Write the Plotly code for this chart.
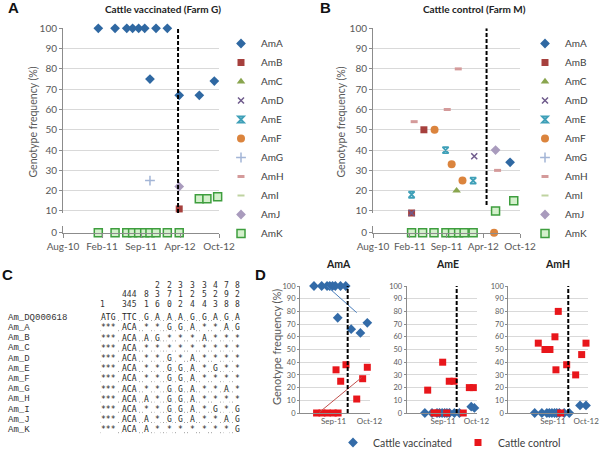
import plotly.graph_objects as go

W, H = 600, 452
def px(x): return x / W
def py(y): return 1 - y / H

FONT = "Lato"
TXT = "#404040"
TICK = "#595959"
GRID = "#D9D9D9"
AXL = "#8C8C8C"

# ---------------- data ----------------
# x values: days since 10 Aug 2010
tick_days = [0, 200, 400, 600, 800]
tick_text = ["Aug-10", "Feb-11", "Sep-11", "Apr-12", "Oct-12"]
genotypes = ["AmA", "AmB", "AmC", "AmD", "AmE", "AmF", "AmG", "AmH", "AmI", "AmJ", "AmK"]
y_title = "Genotype frequency (%)"

# Panel A - Cattle vaccinated (Farm G)
A_AmA_x = [181, 267, 327, 357, 388, 419, 446, 477, 535, 596, 699, 776]
A_AmA_y = [100, 100, 100, 100, 100, 100, 75, 100, 100, 67, 67, 74]
A_AmB_x = [596]
A_AmB_y = [11]
A_AmG_x = [446]
A_AmG_y = [25]
A_AmJ_x = [596]
A_AmJ_y = [22]
A_AmK_x = [181, 267, 327, 357, 388, 419, 446, 477, 535, 596, 699, 738, 793]
A_AmK_y = [0, 0, 0, 0, 0, 0, 0, 0, 0, 0, 16, 16, 17]
A_vacc_day = 590

# Panel B - Cattle control (Farm M)
B_AmA_x = [746, 803]
B_AmA_y = [34, 44]
B_AmB_x = [277, 210]
B_AmB_y = [50, 9]
B_AmC_x = [455]
B_AmC_y = [20]
B_AmD_x = [551, 210]
B_AmD_y = [37, 9]
B_AmE_x = [210, 395, 545]
B_AmE_y = [18, 40, 25]
B_AmF_x = [335, 428, 487, 659]
B_AmF_y = [50, 33, 25, 0]
B_AmH_x = [224, 404, 464, 678]
B_AmH_y = [54, 60, 80, 30]
B_AmJ_x = [667]
B_AmJ_y = [40]
B_AmK_x = [210, 270, 332, 397, 433, 466, 496, 545, 667, 766, 822]
B_AmK_y = [0, 0, 0, 0, 0, 0, 0, 0, 10, 15, 15]
B_vacc_day = 618

# Panel D
D_titles = ["AmA", "AmE", "AmH"]
D_AmA_vacc_x = [181, 267, 327, 357, 388, 419, 446, 477, 535, 596, 699, 776]
D_AmA_vacc_y = [100, 100, 100, 100, 100, 100, 75, 100, 100, 66, 63, 71]
D_AmA_ctrl_x = [210, 270, 330, 395, 450, 427, 479, 538, 658, 724, 776]
D_AmA_ctrl_y = [0, 0, 0, 0, 0, 34, 25, 38, 11, 27, 36]
D_AmA_trend_vacc_x = [323, 658]
D_AmA_trend_vacc_y = [100, 79]
D_AmA_trend_ctrl_x = [240, 713]
D_AmA_trend_ctrl_y = [0.5, 28]

D_AmE_vacc_x = [181, 267, 327, 357, 388, 419, 446, 477, 535, 596, 738, 776]
D_AmE_vacc_y = [0, 0, 0, 0, 0, 0, 0, 0, 0, 0, 5, 4]
D_AmE_ctrl_x = [215, 291, 330, 443, 642, 395, 474, 531, 715, 763]
D_AmE_ctrl_y = [18, 0, 0, 0, 0, 40, 25, 25, 20, 20]

D_AmH_vacc_x = [181, 267, 327, 357, 388, 419, 446, 477, 535, 596, 725, 797]
D_AmH_vacc_y = [0, 0, 0, 0, 0, 0, 0, 0, 0, 0, 6, 6]
D_AmH_ctrl_x = [224, 304, 364, 424, 464, 436, 493, 565, 673, 745, 797]
D_AmH_ctrl_y = [55, 50, 50, 60, 80, 34, 0, 38, 30, 46, 55]

D_vacc_days = [557, 563, 584]
D_ranges = [[25, 806], [-37, 807], [-136, 821]]
D_tick_days = [400, 800]
D_tick_text = ["Sep-11", "Oct-12"]

# Panel C - alignment
C_header = [
    ["", "", "", "2", "2", "3", "3", "3", "4", "7", "8"],
    ["", "444", "8", "3", "7", "1", "2", "5", "2", "9", "2"],
    ["1", "345", "1", "6", "0", "2", "4", "4", "3", "8", "8"],
]
C_names = ["Am_DQ000618", "Am_A", "Am_B", "Am_C", "Am_D", "Am_E", "Am_F",
           "Am_G", "Am_H", "Am_I", "Am_J", "Am_K"]
C_rows = [
    "ATG TTC G A A A G G A G A",
    "*** ACA * * G G A * * A G",
    "*** ACA A G * * * A * * *",
    "*** ACA * * * * * * * * *",
    "*** ACA * * G * A * * * *",
    "*** ACA * * G G A * G * *",
    "*** ACA * * G G A * * * *",
    "*** ACA * * G G A * * A *",
    "*** ACA A * G G A * * * *",
    "*** ACA * * G G A * G * G",
    "*** ACA A * G G A * * A G",
    "*** ACA A * * * * * * * G",
]

# ---------------- styles ----------------
def mk(symbol, color, size=7, lw=0, lc=None):
    d = dict(symbol=symbol, color=color, size=size)
    d["line"] = dict(width=lw, color=lc if lc else color)
    return d

markers = {
    "AmA": mk("diamond", "#2F68A2", 7.5),
    "AmB": mk("square", "#A6403D", 7),
    "AmC": mk("triangle-up", "#89A54E", 7.5),
    "AmD": mk("x-thin-open", "#6F5B8C", 6, 1.5),
    "AmE": mk("hourglass-open", "#3FA0B8", 6, 1.8),
    "AmF": mk("circle", "#DB843D", 8),
    "AmG": mk("cross-thin-open", "#A3B5D6", 7, 1.5),
    "AmH": mk("line-ew-open", "#D49A9A", 5, 3),
    "AmI": mk("line-ew-open", "#BFD3A0", 5, 2),
    "AmJ": mk("diamond", "#A99BBD", 7.5),
    "AmK": mk("square", "#D4F0CC", 8, 1.5, "#3E9E3E"),
}

fig = go.Figure()

panelA = {"AmA": (A_AmA_x, A_AmA_y), "AmB": (A_AmB_x, A_AmB_y), "AmG": (A_AmG_x, A_AmG_y),
          "AmJ": (A_AmJ_x, A_AmJ_y), "AmK": (A_AmK_x, A_AmK_y)}
panelB = {"AmA": (B_AmA_x, B_AmA_y), "AmB": (B_AmB_x, B_AmB_y), "AmC": (B_AmC_x, B_AmC_y),
          "AmD": (B_AmD_x, B_AmD_y), "AmE": (B_AmE_x, B_AmE_y), "AmF": (B_AmF_x, B_AmF_y),
          "AmH": (B_AmH_x, B_AmH_y), "AmJ": (B_AmJ_x, B_AmJ_y), "AmK": (B_AmK_x, B_AmK_y)}

def add_panel(data, xa, ya_up, ya_low, legend):
    for g in genotypes:
        xs, ys = data.get(g, ([], []))
        ux = [x for x, y in zip(xs, ys) if y > 0]
        uy = [y for x, y in zip(xs, ys) if y > 0]
        lx = [x for x, y in zip(xs, ys) if y == 0]
        ly = [y for x, y in zip(xs, ys) if y == 0]
        fig.add_trace(go.Scatter(x=ux or [None], y=uy or [None], mode="markers", name=g,
                                 marker=markers[g], xaxis=xa, yaxis=ya_up, legend=legend,
                                 cliponaxis=False))
        if lx:
            fig.add_trace(go.Scatter(x=lx, y=ly, mode="markers", name=g, showlegend=False,
                                     marker=markers[g], xaxis=xa, yaxis=ya_low,
                                     cliponaxis=False))

add_panel(panelA, "x", "y", "y2", "legend")
add_panel(panelB, "x2", "y3", "y4", "legend2")

VBLUE = "#336BA8"
CRED = "#E8161B"
D_sets = [
    (D_AmA_vacc_x, D_AmA_vacc_y, D_AmA_ctrl_x, D_AmA_ctrl_y),
    (D_AmE_vacc_x, D_AmE_vacc_y, D_AmE_ctrl_x, D_AmE_ctrl_y),
    (D_AmH_vacc_x, D_AmH_vacc_y, D_AmH_ctrl_x, D_AmH_ctrl_y),
]
for i, (vx, vy, cx, cy) in enumerate(D_sets):
    xa, ya = "x%d" % (i + 3), "y%d" % (i + 5)
    fig.add_trace(go.Scatter(x=vx, y=vy, mode="markers", name="Cattle vaccinated",
                             marker=dict(symbol="diamond", size=7.5, color=VBLUE),
                             xaxis=xa, yaxis=ya, legend="legend3", showlegend=(i == 0),
                             cliponaxis=False))
    fig.add_trace(go.Scatter(x=cx, y=cy, mode="markers", name="Cattle control",
                             marker=dict(symbol="square", size=7, color=CRED),
                             xaxis=xa, yaxis=ya, legend="legend3", showlegend=(i == 0),
                             cliponaxis=False))
fig.add_trace(go.Scatter(x=D_AmA_trend_vacc_x, y=D_AmA_trend_vacc_y, mode="lines",
                         line=dict(color="#4A7EBB", width=1), xaxis="x3", yaxis="y5",
                         showlegend=False))
fig.add_trace(go.Scatter(x=D_AmA_trend_ctrl_x, y=D_AmA_trend_ctrl_y, mode="lines",
                         line=dict(color="#C0504D", width=1), xaxis="x3", yaxis="y5",
                         showlegend=False))

# ---------------- axes ----------------
tickf = dict(family=FONT, size=10, color=TICK)
up_y = dict(range=[9, 100], tickvals=[10, 20, 30, 40, 50, 60, 70, 80, 90, 100],
            showgrid=True, gridcolor=GRID, gridwidth=1, showline=True, linecolor=AXL,
            ticks="outside", ticklen=3, tickcolor=AXL, tickfont=tickf, zeroline=False)
low_y = dict(range=[0, 1], tickvals=[0], showgrid=False, showline=True, linecolor=AXL,
             ticks="outside", ticklen=3, tickcolor=AXL, tickfont=tickf, zeroline=False)
xcommon = dict(range=[0, 800], tickvals=tick_days, ticktext=tick_text, showgrid=False,
               showline=True, linecolor=AXL, ticks="outside", ticklen=4, tickcolor=AXL,
               tickfont=tickf, zeroline=False)

fig.update_layout(
    xaxis=dict(domain=[px(63), px(219)], anchor="y2", **xcommon),
    yaxis=dict(domain=[py(213), py(28.3)], anchor="x", **up_y),
    yaxis2=dict(domain=[py(232.7), py(226)], anchor="x", **low_y),
    xaxis2=dict(domain=[px(373), px(520)], anchor="y4", **xcommon),
    yaxis3=dict(domain=[py(213), py(28.3)], anchor="x2", **up_y),
    yaxis4=dict(domain=[py(232.7), py(226)], anchor="x2", **low_y),
)

dxdom = [[300, 370], [406.7, 477], [508.3, 588]]
dtickf = dict(family=FONT, size=7.5, color=TICK)
for i in range(3):
    xa = "xaxis%d" % (i + 3)
    ya = "yaxis%d" % (i + 5)
    fig.layout[xa] = dict(domain=[px(dxdom[i][0]), px(dxdom[i][1])], anchor="y%d" % (i + 5),
                          range=D_ranges[i], tickvals=D_tick_days, ticktext=D_tick_text,
                          showgrid=False, showline=True, linecolor=AXL, ticks="",
                          tickfont=dict(family=FONT, size=8, color=TICK), zeroline=False)
    fig.layout[ya] = dict(domain=[py(413), py(286)], anchor="x%d" % (i + 3), range=[0, 100],
                          dtick=10, showgrid=True, gridcolor=GRID, showline=True,
                          linecolor=AXL, ticks="outside", ticklen=2, tickcolor=AXL,
                          tickfont=dtickf, zeroline=False)

# vaccination lines
dash = "4px,2px"
shapes = [
    dict(type="line", xref="x", yref="y", x0=A_vacc_day, x1=A_vacc_day, y0=9, y1=100,
         line=dict(color="black", width=2, dash=dash)),
    dict(type="line", xref="x2", yref="y3", x0=B_vacc_day, x1=B_vacc_day, y0=13, y1=100,
         line=dict(color="black", width=2, dash=dash)),
]
for i in range(3):
    shapes.append(dict(type="line", xref="x%d" % (i + 3), yref="y%d" % (i + 5),
                       x0=D_vacc_days[i], x1=D_vacc_days[i], y0=0, y1=100,
                       line=dict(color="black", width=2, dash=dash)))

# ---------------- annotations ----------------
ann = []
def text(x, y, s, size=10, bold=False, color=TXT, family=FONT, xanchor="center", bg=None,
         angle=0):
    a = dict(x=px(x), y=py(y), xref="paper", yref="paper",
             text=("<b>%s</b>" % s) if bold else s,
             showarrow=False, xanchor=xanchor, yanchor="middle", textangle=angle,
             font=dict(family=family, size=size, color=color))
    if bg:
        a["bgcolor"] = bg
        a["borderpad"] = 0
    ann.append(a)

for s, x, y in [("A", 13.3, 7.2), ("B", 325.8, 7.2), ("C", 7.5, 274.7), ("D", 260, 274.7)]:
    text(x, y, s, size=15, bold=True, color="#111111", family="Liberation Sans")
text(163.3, 9, "Cattle vaccinated (Farm G)", size=10, bold=True, color="#222222")
text(474, 9, "Cattle control (Farm M)", size=10, bold=True, color="#222222")
for s, x in zip(D_titles, [338, 447.5, 557.5]):
    text(x, 264, s, size=10.5, bold=True, color="#222222")
# y-axis titles
text(32, 122.5, y_title, size=10.5, color=TICK, angle=-90)
text(340, 122.5, y_title, size=10.5, color=TICK, angle=-90)
text(276, 347, y_title, size=11, color=TICK, angle=-90)

# Panel C
MONO = "Liberation Mono"
SEQ = "DejaVu Sans Mono"
tok_x = [108, 129.3, 146.7, 157.5, 169, 180.5, 192, 204, 215.5, 226.5, 237]
hdr_y = [285, 294.3, 304]
for r, row in enumerate(C_header):
    for j, s in enumerate(row):
        if not s:
            continue
        x = 102.5 if j == 0 else tok_x[j]
        text(x, hdr_y[r], s, size=8, color="#333333", family=SEQ)
for k, (nm, row) in enumerate(zip(C_names, C_rows)):
    y = 317.7 + k * 10.2
    text(6, y, nm, size=9, color="#333333", family=MONO, xanchor="left")
    # dotted separators drawn behind the sequence tokens
    shapes.append(dict(type="line", xref="paper", yref="paper", x0=px(100), x1=px(240),
                       y0=py(y + 2.8), y1=py(y + 2.8), layer="below",
                       line=dict(color="#A0A0A0", width=1, dash="1px,2px")))
    for j, s in enumerate(row.split(" ")):
        text(tok_x[j], y, s, size=8, color="#262626", family=SEQ, bg="white")

fig.update_layout(
    width=W, height=H, margin=dict(l=0, r=0, t=0, b=0, autoexpand=False),
    paper_bgcolor="white", plot_bgcolor="white",
    font=dict(family=FONT, color=TXT),
    shapes=shapes, annotations=ann,
    legend=dict(x=px(221), y=py(29), xanchor="left", yanchor="top",
                font=dict(family=FONT, size=10, color=TXT), bgcolor="rgba(0,0,0,0)"),
    legend2=dict(x=px(525), y=py(29), xanchor="left", yanchor="top",
                 font=dict(family=FONT, size=10, color=TXT), bgcolor="rgba(0,0,0,0)"),
    legend3=dict(x=px(333), y=py(428), xanchor="left", yanchor="top", orientation="h",
                 entrywidth=80, font=dict(family=FONT, size=10.5, color=TXT),
                 bgcolor="rgba(0,0,0,0)"),
)

fig.write_html("out.html", config={"displayModeBar": False},
               post_script="document.body.style.margin='0';")
